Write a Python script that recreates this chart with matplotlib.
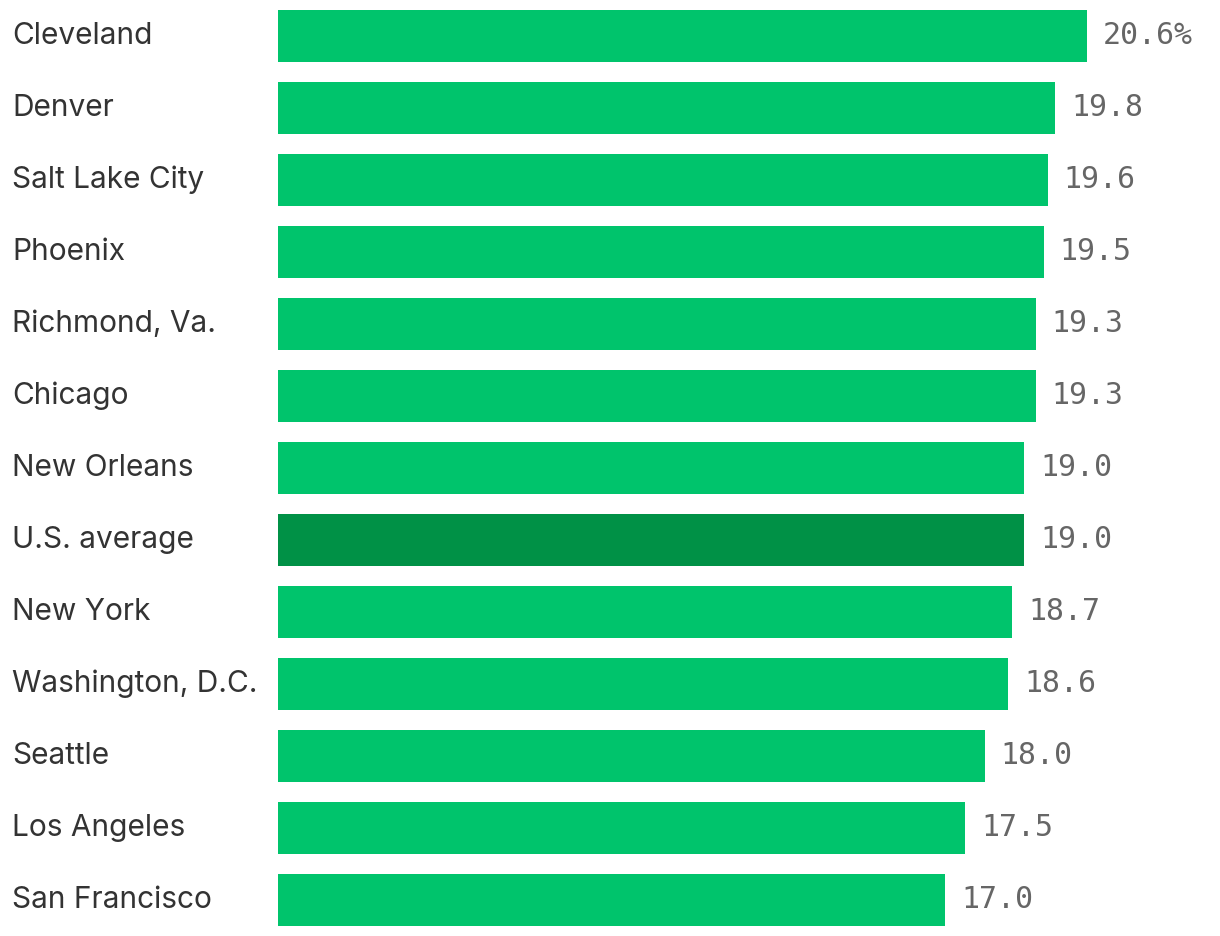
import matplotlib
matplotlib.use("Agg")
import matplotlib.pyplot as plt
import matplotlib.transforms as mtransforms

# Données
villes = ["Cleveland", "Denver", "Salt Lake City", "Phoenix", "Richmond, Va.",
          "Chicago", "New Orleans", "U.S. average", "New York",
          "Washington, D.C.", "Seattle", "Los Angeles", "San Francisco"]
valeurs = [20.6, 19.8, 19.6, 19.5, 19.3, 19.3, 19.0, 19.0, 18.7, 18.6, 18.0, 17.5, 17.0]
etiquettes = ["20.6%", "19.8", "19.6", "19.5", "19.3", "19.3", "19.0", "19.0",
              "18.7", "18.6", "18.0", "17.5", "17.0"]

vert = "#00c46c"
vert_fonce = "#009146"
couleurs = [vert_fonce if v == "U.S. average" else vert for v in villes]

fig = plt.figure(figsize=(12.2, 9.36), dpi=100)
ax = fig.add_axes([278 / 1220, 0, 1 - 278 / 1220, 1])

y = list(range(len(villes)))
ax.barh(y, valeurs, height=52 / 72, color=couleurs)
ax.set_xlim(0, 941 / 39.22)
ax.set_ylim(len(villes) - 0.5, -0.5)
ax.axis("off")

# Noms des villes à gauche
trans = mtransforms.blended_transform_factory(fig.transFigure, ax.transData)
for i, nom in enumerate(villes):
    ax.text(12 / 1220, i, nom, transform=trans, ha="left", va="center",
            fontsize=21.5, color="#333333", family="Inter")

# Valeurs au bout des barres
decalage = mtransforms.offset_copy(ax.transData, fig=fig, x=16, y=0, units="dots")
for i, (v, lab) in enumerate(zip(valeurs, etiquettes)):
    ax.text(v, i, lab, transform=decalage, ha="left", va="center",
            fontsize=21.5, color="#666666", family="DejaVu Sans Mono")

fig.savefig("out.png", dpi=100)
